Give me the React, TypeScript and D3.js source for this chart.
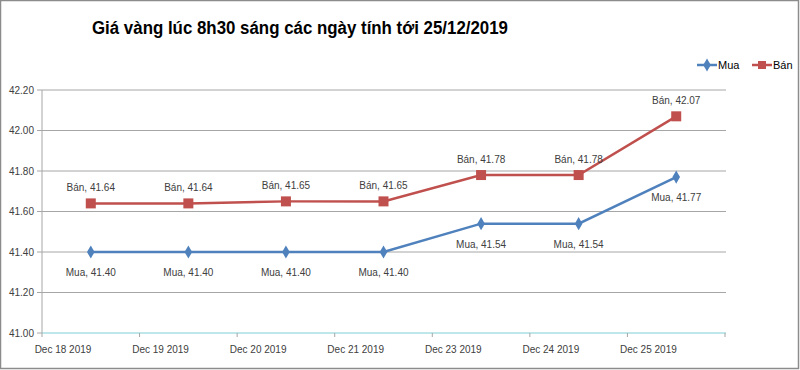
import React from 'react';
import * as d3 from 'd3';

const dates = ['Dec 18 2019', 'Dec 19 2019', 'Dec 20 2019', 'Dec 21 2019', 'Dec 23 2019', 'Dec 24 2019', 'Dec 25 2019'];
const muaValues = [41.4, 41.4, 41.4, 41.4, 41.54, 41.54, 41.77];
const banValues = [41.64, 41.64, 41.65, 41.65, 41.78, 41.78, 42.07];
const yTicks = [41.0, 41.2, 41.4, 41.6, 41.8, 42.0, 42.2];

const W = 800;
const H = 370;
const LEFT = 42;
const RIGHT = 725;
const TOP = 90;
const BOTTOM = 333;

const BLUE = '#4f81bd';
const RED = '#c0504d';
const FONT = '"Liberation Sans", Arial, sans-serif';

const App: React.FC = () => {
  const x = d3.scaleBand<string>().domain(dates).range([LEFT, RIGHT]);
  const y = d3.scaleLinear().domain([41.0, 42.2]).range([BOTTOM, TOP]);
  const cx = (d: string) => (x(d) || 0) + x.bandwidth() / 2;

  const line = d3
    .line<number>()
    .x((_, i) => cx(dates[i]))
    .y((v) => y(v));

  const diamond = d3.symbol().type(d3.symbolDiamond).size(50)();

  return (
    <div style={{ position: 'fixed', left: 0, top: 0 }}>
      <svg width={W} height={H} style={{ display: 'block', background: '#fff' }}>
        <rect x={0.5} y={0.5} width={W - 2} height={H - 2} fill="#fff" stroke="#8c8c8c" strokeWidth={1.5} />

        {/* title */}
        <text
          x={92}
          y={34}
          fontFamily={FONT}
          fontWeight="bold"
          fontSize={18}
          fill="#000"
          textLength={416}
          lengthAdjust="spacingAndGlyphs"
        >
          Giá vàng lúc 8h30 sáng các ngày tính tới 25/12/2019
        </text>

        {/* legend */}
        <g fontFamily={FONT} fontSize={11} fill="#000">
          <line x1={697} x2={717} y1={65} y2={65} stroke={BLUE} strokeWidth={2.5} />
          <path d={diamond || undefined} transform="translate(707,65)" fill={BLUE} />
          <text x={718} y={69}>Mua</text>
          <line x1={752} x2={772} y1={65} y2={65} stroke={RED} strokeWidth={2.5} />
          <rect x={758} y={61} width={8} height={8} fill={RED} />
          <text x={773} y={69}>Bán</text>
        </g>

        {/* gridlines and y axis */}
        {yTicks.map((t) => (
          <g key={t}>
            {t > 41.0 && (
              <line x1={LEFT} x2={RIGHT + 1} y1={y(t)} y2={y(t)} stroke="#a6a6a6" strokeWidth={1} />
            )}
            <line x1={LEFT - 5} x2={LEFT} y1={y(t)} y2={y(t)} stroke="#a6a6a6" />
            <text x={34} y={y(t) + 3.5} textAnchor="end" fontFamily={FONT} fontSize={10} fill="#404040">
              {t.toFixed(2)}
            </text>
          </g>
        ))}
        <line x1={LEFT} x2={LEFT} y1={TOP} y2={BOTTOM} stroke="#a6a6a6" />
        <line x1={LEFT} x2={RIGHT + 1} y1={BOTTOM} y2={BOTTOM} stroke="#7fcfd6" strokeWidth={1} />

        {/* x axis */}
        {dates.map((d) => (
          <g key={d}>
            <line x1={x(d)} x2={x(d)} y1={BOTTOM} y2={BOTTOM + 4} stroke="#a6a6a6" />
            <text
              x={(x(d) || 0) + 21}
              y={BOTTOM + 20}
              textAnchor="middle"
              fontFamily={FONT}
              fontSize={10}
              fill="#404040"
            >
              {d}
            </text>
          </g>
        ))}
        <line x1={RIGHT} x2={RIGHT} y1={BOTTOM} y2={BOTTOM + 4} stroke="#a6a6a6" />

        {/* series */}
        <path d={line(muaValues) || undefined} fill="none" stroke={BLUE} strokeWidth={2.5} />
        <path d={line(banValues) || undefined} fill="none" stroke={RED} strokeWidth={2.5} />
        {muaValues.map((v, i) => (
          <path key={'m' + i} d={diamond || undefined} transform={`translate(${cx(dates[i])},${y(v)})`} fill={BLUE} />
        ))}
        {banValues.map((v, i) => (
          <rect key={'b' + i} x={cx(dates[i]) - 5} y={y(v) - 5} width={10} height={10} fill={RED} />
        ))}

        {/* data labels */}
        <g fontFamily={FONT} fontSize={10} fill="#404040" textAnchor="middle">
          {banValues.map((v, i) => (
            <text key={'bl' + i} x={cx(dates[i])} y={y(v) - 12}>
              Bán, {v.toFixed(2)}
            </text>
          ))}
          {muaValues.map((v, i) => (
            <text key={'ml' + i} x={cx(dates[i])} y={y(v) + 24}>
              Mua, {v.toFixed(2)}
            </text>
          ))}
        </g>
      </svg>
    </div>
  );
};

export default App;
